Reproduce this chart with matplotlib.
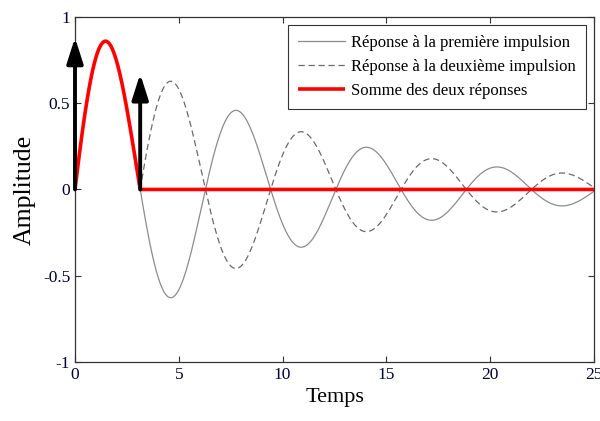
import numpy as np
import matplotlib
matplotlib.use("Agg")
import matplotlib.pyplot as plt

# --- data ---
impulse_times = [0.0, 3.14]          # instants of the two impulses
impulse_heights = [0.88, 0.67]       # drawn arrow heights
response_gain = [1.0, 0.73]          # gain of each impulse response
damping = 0.1                        # decay rate of the oscillation
omega = 1.0                          # oscillation frequency (period ~6.28)
t_end = 25.0
x_ticks = [0, 5, 10, 15, 20, 25]
y_ticks = [-1, -0.5, 0, 0.5, 1]
y_tick_labels = ["-1", "-0.5", "0", "0.5", "1"]
legend_labels = ["Réponse à la première impulsion",
                 "Réponse à la deuxième impulsion",
                 "Somme des deux réponses"]

plt.rcParams['font.family'] = ['Liberation Serif', 'DejaVu Serif']

t = np.linspace(0, t_end, 2501)

def response(t0, g):
    tt = t - t0
    y = g * np.exp(-damping * tt) * np.sin(omega * tt)
    return np.where(tt >= 0, y, 0.0)

y1 = response(impulse_times[0], response_gain[0])
y2 = response(impulse_times[1], response_gain[1])
ysum = y1 + y2
ysum[t >= impulse_times[1]] = 0.0  # the two responses cancel after the 2nd impulse
mask2 = t >= impulse_times[1]

fig = plt.figure(figsize=(6.0, 4.21), dpi=100)
ax = fig.add_axes([0.125, 0.140, 0.865, 0.820])

ax.plot(t, y1, color='#8c8c8c', lw=0.9, label=legend_labels[0])
ax.plot(t[mask2], y2[mask2], color='#6a6a6a', lw=0.9, ls=(0, (5, 3)), label=legend_labels[1])
ax.plot(t, ysum, color='#ff0000', lw=2.6, label=legend_labels[2], solid_capstyle='butt')

for ti, hi in zip(impulse_times, impulse_heights):
    ax.annotate('', xy=(ti, hi), xytext=(ti, 0),
                arrowprops=dict(arrowstyle='-|>,head_length=1.1,head_width=0.35',
                                lw=2.8, color='black', mutation_scale=14,
                                shrinkA=0, shrinkB=0),
                annotation_clip=False)

ax.set_xlim(0, t_end)
ax.set_ylim(-1, 1)
ax.set_xticks(x_ticks)
ax.set_xticklabels([str(v) for v in x_ticks])
ax.set_yticks(y_ticks)
ax.set_yticklabels(y_tick_labels)
ax.tick_params(direction='in', top=True, right=True, labelsize=12.5,
               length=4, width=0.8, colors='#333333', labelcolor='#000033')
for sp in ax.spines.values():
    sp.set_linewidth(0.9)
    sp.set_color('#333333')

ax.set_xlabel('Temps', fontsize=16, labelpad=4)
ax.set_ylabel('Amplitude', fontsize=18.5, labelpad=5)

leg = ax.legend(loc='upper right', fontsize=12, frameon=True, fancybox=False,
                edgecolor='black', handlelength=2.8, handletextpad=0.4,
                borderaxespad=0.48, labelspacing=0.47, borderpad=0.6)
leg.get_frame().set_linewidth(0.8)

fig.savefig('out.png', dpi=100)
